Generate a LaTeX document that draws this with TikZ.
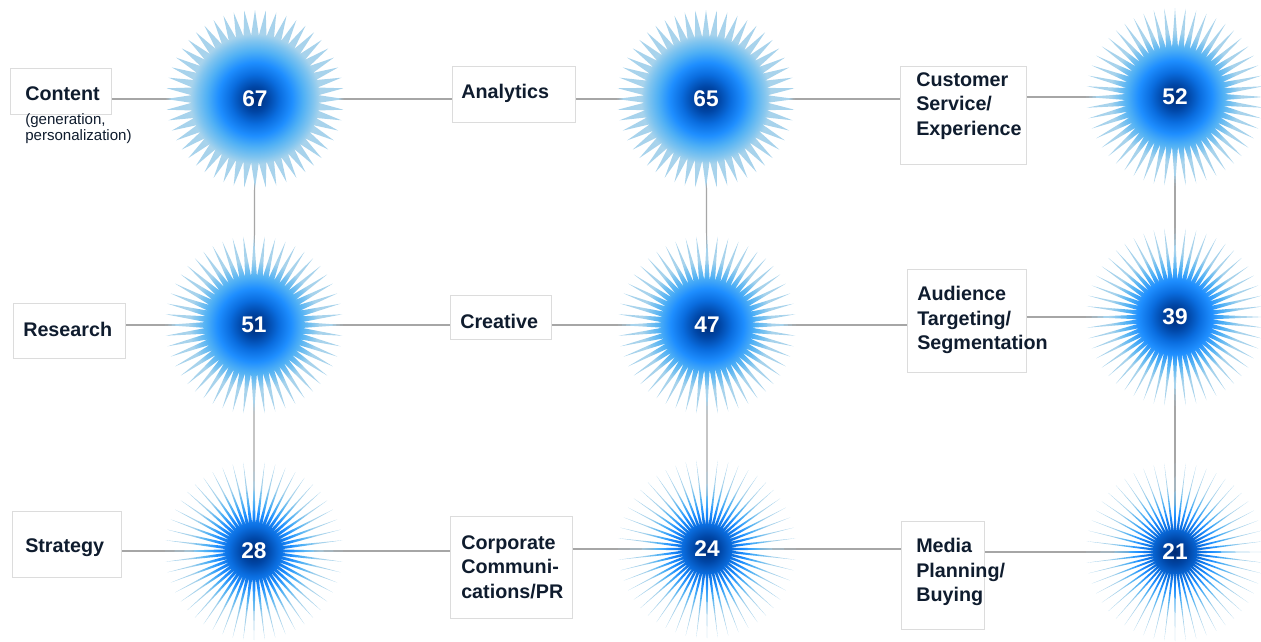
\documentclass[tikz,border=0pt]{standalone}
\usepackage{fontspec}
\setmainfont{Liberation Sans}
\usetikzlibrary{calc}

\definecolor{ink}{HTML}{0F1C2E}
\definecolor{rulegray}{HTML}{A6A6A6}
\definecolor{panelline}{HTML}{DCDCDC}
\definecolor{bzero}{HTML}{002A72}
\definecolor{bone}{HTML}{0046A6}
\definecolor{btwo}{HTML}{0A6DDF}
\definecolor{bthree}{HTML}{1E8EFF}
\definecolor{bfour}{HTML}{4FB0F5}
\definecolor{bfive}{HTML}{7FC4EF}
\definecolor{bsix}{HTML}{A8D3EC}

% radial colour ramp of a starburst; the tips sit at about 17.7bp
% (the shading circle of 25bp reaches the corners of the square round the star)
\pgfdeclareradialshading{burstramp}{\pgfpoint{0bp}{0bp}}{%
  color(0bp)=(bzero); color(3.6bp)=(bone); color(7bp)=(btwo);
  color(10.3bp)=(bthree); color(13.5bp)=(bfour); color(16.3bp)=(bfive);
  color(18.3bp)=(bsix); color(50bp)=(bsix)}

\pgfdeclarelayer{paper}
\pgfdeclarelayer{lines}
\pgfdeclarelayer{bursts}
\pgfsetlayers{paper,lines,bursts,main}

\newcommand\px{0.75pt}
\newcommand\tipR{89}
\newcommand\spikes{52}

\tikzset{
  panel/.style={draw=panelline, line width=0.8pt, fill=white, inner sep=0pt, anchor=north west},
  lbl/.style={text=ink, font=\fontsize{14.8pt}{18.4pt}\selectfont\bfseries, align=left, inner sep=0pt, anchor=west},
  sublbl/.style={text=ink, font=\fontsize{11.3pt}{12pt}\selectfont, align=left, inner sep=0pt, anchor=west},
  numlbl/.style={text=white, font=\fontsize{17pt}{20pt}\selectfont\bfseries, inner sep=1pt},
  link/.style={draw=rulegray, line width=0.9pt},
}

% panel: name, left, top, right, bottom (pixel units)
\newcommand\panelbox[5]{%
  \node[panel, minimum width={(#4-#2)*\px}, minimum height={(#5-#3)*\px}] (#1) at (#2,#3) {};}

% starburst: name, x, y, value; the valley radius follows the value
\newcommand\starburst[4]{%
  \node[numlbl] (#1) at (#2,#3) {#4};
  \begin{pgfonlayer}{bursts}
    \begin{scope}[shift={(#2,#3)}]
      \pgfmathsetmacro\valleyR{0.95*#4}
      \pgfmathsetmacro\stepA{360/\spikes}
      \path[shading=burstramp] (0:\tipR)
        \foreach \k in {1,...,\spikes}{ -- ({(\k-0.5)*\stepA}:\valleyR) -- ({\k*\stepA}:\tipR) } -- cycle;
    \end{scope}
  \end{pgfonlayer}}

\begin{document}
\begin{tikzpicture}[x=0.75pt, y=-0.75pt]
  \begin{pgfonlayer}{paper}
    \fill[white] (0,0) rectangle (1261,642);
  \end{pgfonlayer}
  \useasboundingbox (0,0) rectangle (1261,642);

  % category panels
  \panelbox{content}{10}{68}{111}{114}
  \panelbox{analytics}{452}{66}{575}{122}
  \panelbox{service}{900}{66}{1026}{164}
  \panelbox{research}{13}{303}{125}{358}
  \panelbox{creative}{450}{295}{551}{339}
  \panelbox{audience}{907}{269}{1026}{372}
  \panelbox{strategy}{12}{511}{121}{577}
  \panelbox{corporate}{450}{516}{572}{618}
  \panelbox{media}{901}{521}{984}{629}

  % panel texts
  \node[lbl] (content-t) at (25,94) {Content};
  \node[sublbl] (content-s) at (25,129) {(generation,\\personalization)};
  \node[lbl] (analytics-t) at (461,93) {Analytics};
  \node[lbl] (service-t) at (916,106) {Customer\\Service/\\Experience};
  \node[lbl] (research-t) at (23,329) {Research};
  \node[lbl] (creative-t) at (460,321) {Creative};
  \node[lbl] (audience-t) at (917,320) {Audience\\Targeting/\\Segmentation};
  \node[lbl] (strategy-t) at (25,548) {Strategy};
  \node[lbl] (corporate-t) at (461,567) {Corporate\\Communi-\\cations/PR};
  \node[lbl] (media-t) at (916,572) {Media\\Planning/\\Buying};

  % starbursts
  \starburst{b67}{255}{99}{67}
  \starburst{b65}{706}{99}{65}
  \starburst{b52}{1175}{97}{52}
  \starburst{b51}{254}{325}{51}
  \starburst{b47}{707}{325}{47}
  \starburst{b39}{1175}{317}{39}
  \starburst{b28}{254}{551}{28}
  \starburst{b24}{707}{549}{24}
  \starburst{b21}{1175}{552}{21}

  % connectors
  \begin{pgfonlayer}{lines}
    \draw[link] (content.east |- b67) -- (b67.center) -- (analytics.west |- b67);
    \draw[link] (analytics.east |- b65) -- (b65.center) -- (service.west |- b65);
    \draw[link] (service.east |- b52) -- (b52.center);
    \draw[link] (research.east |- b51) -- (b51.center) -- (creative.west |- b51);
    \draw[link] (creative.east |- b47) -- (b47.center) -- (audience.west |- b47);
    \draw[link] (audience.east |- b39) -- (b39.center);
    \draw[link] (strategy.east |- b28) -- (b28.center) -- (corporate.west |- b28);
    \draw[link] (corporate.east |- b24) -- (b24.center) -- (media.west |- b24);
    \draw[link] (media.east |- b21) -- (b21.center);
    \draw[link] (b67.center) -- (b51.center) -- (b28.center);
    \draw[link] (b65.center) -- (b47.center) -- (b24.center);
    \draw[link] (b52.center) -- (b39.center) -- (b21.center);
  \end{pgfonlayer}
\end{tikzpicture}
\end{document}
